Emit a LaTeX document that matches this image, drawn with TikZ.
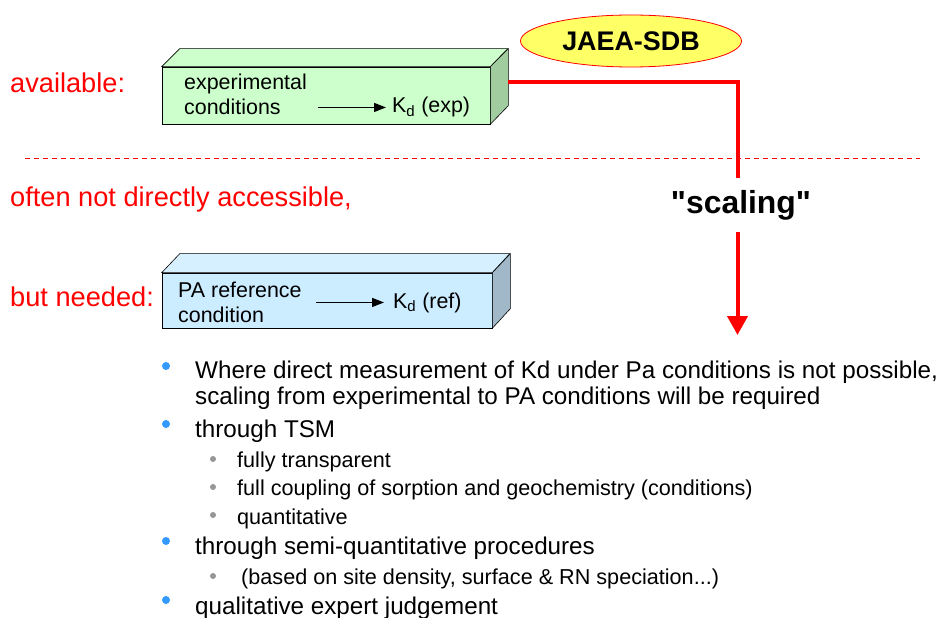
\documentclass[tikz,border=0pt]{standalone}
\usepackage{fontspec}
\setmainfont{Liberation Sans}[Ligatures=TeXOff]
\usetikzlibrary{arrows.meta,shapes.geometric}
\definecolor{slidered}{RGB}{255,0,0}
\definecolor{boxgreen}{RGB}{204,255,204}
\definecolor{sidegreen}{RGB}{160,204,160}
\definecolor{boxblue}{RGB}{204,236,255}
\definecolor{topblue}{RGB}{214,240,255}
\definecolor{sideblue}{RGB}{160,184,200}
\definecolor{bulletblue}{RGB}{51,153,255}
\definecolor{bulletgrey}{RGB}{150,150,150}
\definecolor{ovalyellow}{RGB}{255,255,102}
\tikzset{
  side label/.style={anchor=base west,text=slidered,inner sep=0,font=\fontsize{27.3}{30}\selectfont},
  box text/.style={anchor=base west,inner sep=0,font=\fontsize{21.5}{24}\selectfont},
  main item/.style={anchor=base west,inner sep=0,font=\fontsize{24.3}{26}\selectfont},
  sub item/.style={anchor=base west,inner sep=0,font=\fontsize{21.7}{24}\selectfont},
  face/.style={draw=black,line width=0.6bp},
  kd arrow/.style={line width=1.4bp,-{Triangle[length=12bp,width=9bp]}},
}
\begin{document}
\begin{tikzpicture}[x=1bp,y=-1bp]
\useasboundingbox (0,0) rectangle (939,618);
\node[side label] (avail) at (10,92.5) {available:};
\node[side label] (often) at (10,206.5) {often not directly accessible,};
\node[side label] (needed) at (10,306.5) {but needed:};
\draw[slidered,line width=1bp,dash pattern=on 5bp off 4bp] (25,159) -- (920,159);

\node[face,fill=boxgreen,minimum width=328bp,minimum height=57bp,inner sep=0] (gfront) at (326,95.5) {};
\draw[face,fill=boxgreen] (gfront.north west) -- ++(18,-18) -- ++(328,0) -- (gfront.north east) -- cycle;
\draw[face,fill=sidegreen] (gfront.north east) -- ++(18,-18) -- ++(0,57) -- (gfront.south east) -- cycle;
\node[box text] (exp1) at (184,89.5) {experimental};
\node[box text] (cond) at (184,114.5) {conditions};
\node[box text] (kexp) at (392,113) {K\textsubscript{d} (exp)};
\draw[kd arrow,shorten <=37bp,shorten >=6bp] (kexp.west -| cond.east) -- (kexp.west);

\node[face,fill=boxblue,minimum width=330bp,minimum height=55bp,inner sep=0] (bfront) at (327,300.5) {};
\draw[face,fill=topblue] (bfront.north west) -- ++(18,-19) -- ++(330,0) -- (bfront.north east) -- cycle;
\draw[face,fill=sideblue] (bfront.north east) -- ++(18,-19) -- ++(0,55) -- (bfront.south east) -- cycle;
\node[box text] (pa1) at (178,297) {PA reference};
\node[box text] (pacond) at (178,322) {condition};
\node[box text] (kref) at (393,308) {K\textsubscript{d} (ref)};
\draw[kd arrow,shorten <=14bp,shorten >=9bp] (kref.west -| pa1.east) -- (kref.west);

\node[ellipse,draw=slidered,line width=0.8bp,fill=ovalyellow,minimum width=221bp,minimum height=52bp,
  font=\fontsize{27}{30}\selectfont\bfseries] (sdb) at (631,41) {JAEA-SDB};
\coordinate (gout) at (508,82);
\coordinate (tip) at (737.5,335);
\draw[slidered,line width=4bp,-{Triangle[length=19bp,width=20bp]}] (gout) -| (tip);
\node[fill=white,minimum height=54bp,inner sep=2bp,font=\fontsize{32}{34}\selectfont\bfseries] (scaling) at (741,205) {"scaling"};

\fill[bulletblue] (166,366) circle (4bp);
\node[main item] (item1a) at (195,378.5) {Where direct measurement of Kd under Pa conditions is not possible,};
\node[main item] (item1b) at (195,404.5) {scaling from experimental to PA conditions will be required};
\fill[bulletblue] (166,424) circle (4bp);
\node[main item] (item2) at (195,437.5) {through TSM};
\fill[bulletgrey] (213,459) circle (3bp);
\node[sub item] (sub2a) at (237,467) {fully transparent};
\fill[bulletgrey] (213,487) circle (3bp);
\node[sub item] (sub2b) at (237,495) {full coupling of sorption and geochemistry (conditions)};
\fill[bulletgrey] (213,515) circle (3bp);
\node[sub item] (sub2c) at (237,524) {quantitative};
\fill[bulletblue] (166,541) circle (4bp);
\node[main item] (item3) at (195,554.5) {through semi-quantitative procedures};
\fill[bulletgrey] (213,576) circle (3bp);
\node[sub item] (sub3a) at (241,584) {(based on site density, surface \& RN speciation...)};
\fill[bulletblue] (166,600) circle (4bp);
\node[main item] (item4) at (195,614.5) {qualitative expert judgement};
\end{tikzpicture}
\end{document}
